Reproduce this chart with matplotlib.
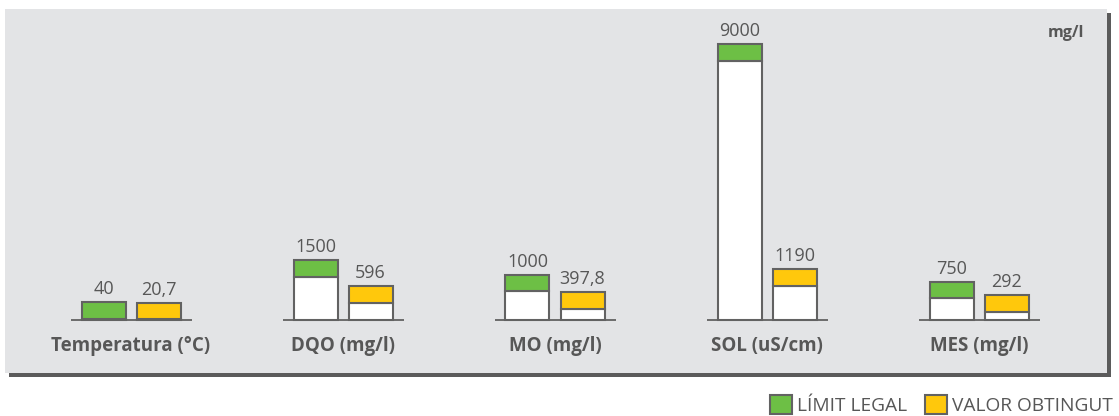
import matplotlib
matplotlib.use("Agg")
import matplotlib.pyplot as plt
from matplotlib.patches import Rectangle, Patch

# ---- data ----
categories = ["Temperatura (°C)", "DQO (mg/l)", "MO (mg/l)", "SOL (uS/cm)", "MES (mg/l)"]
limit_values = [40, 1500, 1000, 9000, 750]
obtained_values = [20.7, 596, 397.8, 1190, 292]
limit_labels = ["40", "1500", "1000", "9000", "750"]
obtained_labels = ["20,7", "596", "397,8", "1190", "292"]
series_names = ["LÍMIT LEGAL", "VALOR OBTINGUT"]
unit_label = "mg/l"

# ---- style ----
GREEN = "#6dbf45"
YELLOW = "#ffc80c"
EDGE = "#626262"
TEXT = "#575757"
PANEL = "#e3e4e6"
SHADOW = "#5b5b5b"
FONT = "Open Sans"

W, H = 1119, 416
fig = plt.figure(figsize=(W / 100, H / 100), dpi=100)
fig.patch.set_facecolor("white")

# panel geometry (pixels from top-left)
px0, px1, py0, py1 = 5, 1107, 9, 373
# shadow
fig.patches.append(Rectangle(((px0 + 4) / W, 1 - (py1 + 4) / H), (px1 - px0) / W, (py1 - py0) / H,
                             transform=fig.transFigure, facecolor=SHADOW, edgecolor="none", zorder=0))
ax = fig.add_axes([px0 / W, 1 - py1 / H, (px1 - px0) / W, (py1 - py0) / H], zorder=1)
ax.set_facecolor(PANEL)
for s in ax.spines.values():
    s.set_visible(False)
ax.set_xticks([])
ax.set_yticks([])

# scale: units per pixel
k = 1 / 0.0288
base_px = 320
ax.set_ylim(-(py1 - base_px) * k, (base_px - py0) * k)
spacing = 212.0
c0 = 131.0
ax.set_xlim((px0 - c0) / spacing, (px1 - c0) / spacing)

CAP = 16.5 * k
bw = 44 / spacing
off = 27.5 / spacing
half_line = 60.5 / spacing

for i, cat in enumerate(categories):
    ax.hlines(0, i - half_line, i + half_line, color=EDGE, lw=1.3, zorder=2)
    for v, lab, col, dx in ((limit_values[i], limit_labels[i], GREEN, -off),
                            (obtained_values[i], obtained_labels[i], YELLOW, off)):
        ax.bar(i + dx, v, width=bw, bottom=0, color="white", edgecolor=EDGE, linewidth=1.5, zorder=3)
        ax.bar(i + dx, CAP, width=bw, bottom=v, color=col, edgecolor=EDGE, linewidth=1.5, zorder=3)
        ax.annotate(lab, xy=(i + dx, v + CAP), xytext=(0, 3), textcoords="offset points",
                    ha="center", va="bottom", fontsize=13, color=TEXT, family=FONT)
    ax.annotate(cat, xy=(i, 0), xytext=(0, -18.5), textcoords="offset points",
                ha="center", va="center", fontsize=13.5, fontweight="bold", color=TEXT, family=FONT)

fig.text(1084 / W, 1 - 33 / H, unit_label, ha="right", va="center", fontsize=11.5,
         fontweight="bold", color=TEXT, family=FONT)

handles = [Patch(facecolor=GREEN, edgecolor=EDGE, linewidth=1.5),
           Patch(facecolor=YELLOW, edgecolor=EDGE, linewidth=1.5)]
leg = fig.legend(handles, series_names, loc="lower right", bbox_to_anchor=(1115 / W, -1 / H),
                 ncol=2, frameon=False, fontsize=13.8, handlelength=1.15, handleheight=1.1,
                 handletextpad=0.25, columnspacing=0.95, borderaxespad=0.0, borderpad=0.1)
for t in leg.get_texts():
    t.set_color(TEXT)
    t.set_family(FONT)

fig.savefig("out.png", dpi=100, facecolor="white")
